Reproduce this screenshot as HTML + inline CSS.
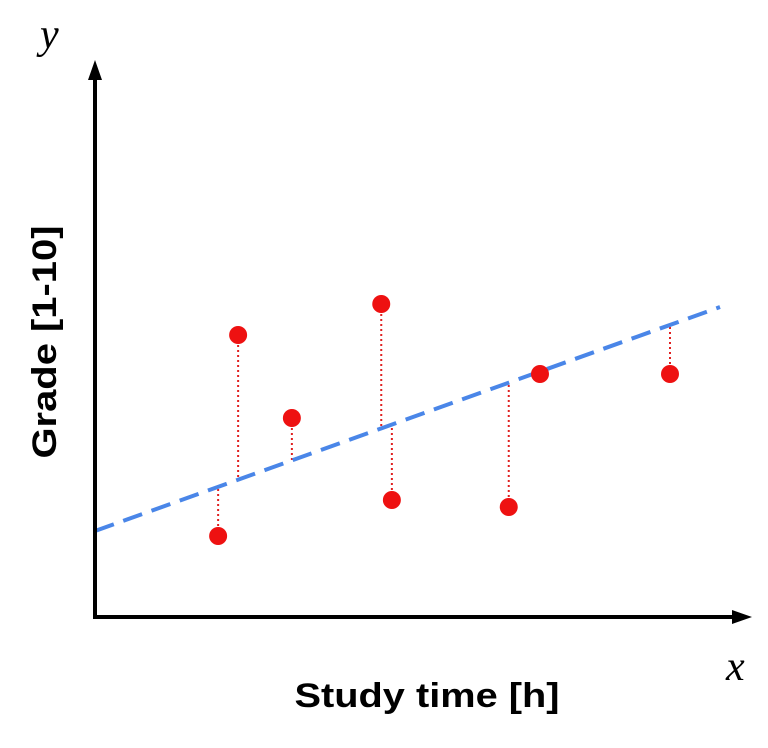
<!DOCTYPE html>
<html><head><meta charset="utf-8"><style>
body{margin:0;background:#fff;}
svg{display:block;}
</style></head><body>
<svg width="768" height="748" viewBox="0 0 768 748">
<g id="plot"></g>
<line x1="95" y1="617" x2="95" y2="75" stroke="#000" stroke-width="4"/>
<polygon points="95,60 88,80 102,80" fill="#000"/>
<line x1="93" y1="617" x2="735" y2="617" stroke="#000" stroke-width="4"/>
<polygon points="752,617 732,610 732,624" fill="#000"/>
<text x="40" y="48" font-family="Liberation Serif, serif" font-style="italic" font-size="42">y</text>
<text x="726" y="680" font-family="Liberation Serif, serif" font-style="italic" font-size="42">x</text>
<text transform="translate(56,342) rotate(-90)" text-anchor="middle" font-family="Liberation Sans, sans-serif" font-weight="bold" font-size="34" textLength="233" lengthAdjust="spacingAndGlyphs">Grade [1-10]</text>
<text x="427" y="707" text-anchor="middle" font-family="Liberation Sans, sans-serif" font-weight="bold" font-size="34" textLength="265" lengthAdjust="spacingAndGlyphs">Study time [h]</text>
</svg>
<script>
const xs = [1.97, 2.29, 3.15, 4.58, 4.75, 6.62, 7.12, 9.2];
const ys = [1.62, 5.64, 3.98, 6.26, 2.34, 2.20, 4.86, 4.86];
const intercept = 1.72;
const slope = 0.448;
const xRange = [0, 10];
const sx = v => 95 + v * 62.5;
const sy = v => 617 - v * 50;
const NS = 'http://www.w3.org/2000/svg';
const g = document.getElementById('plot');
function mk(tag, attrs){const e=document.createElementNS(NS,tag);for(const k in attrs)e.setAttribute(k,attrs[k]);g.appendChild(e);return e;}
xs.forEach((x,i)=>{
  const r = mk('line',{x1:sx(x),x2:sx(x),y1:sy(ys[i]),y2:sy(intercept+slope*x),stroke:'#e02020','stroke-width':2,'stroke-dasharray':'2,3'});
  
  
});
const fl = mk('line',{x1:sx(xRange[0]),y1:sy(intercept+slope*xRange[0]),x2:sx(xRange[1]),y2:sy(intercept+slope*xRange[1]),stroke:'#4a86e8','stroke-width':4,'stroke-dasharray':'20,10'});


xs.forEach((x,i)=>{
  const c = mk('circle',{cx:sx(x),cy:sy(ys[i]),r:9,fill:'#ee1111'});
  
  
});
</script>
</body></html>
